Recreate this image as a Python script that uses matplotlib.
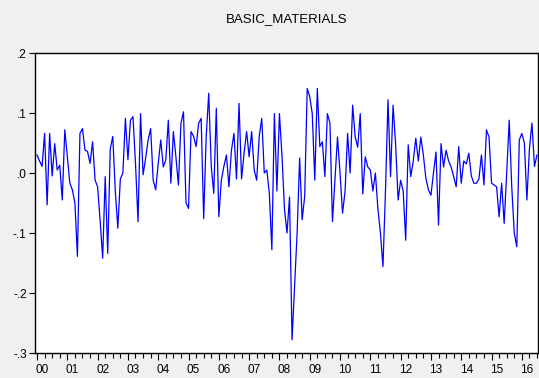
import matplotlib
matplotlib.use("Agg")
import matplotlib.pyplot as plt
import numpy as np

plt.rcParams['font.family'] = ['Liberation Sans', 'DejaVu Sans']

# Monthly values, one list per year
r2000 = [0.030, 0.020, 0.011, 0.066, -0.053, 0.066, -0.005, 0.049, 0.005, 0.013, -0.045, 0.072]
r2001 = [0.027, -0.017, -0.028, -0.050, -0.139, 0.066, 0.074, 0.038, 0.036, 0.016, 0.052, -0.012]
r2002 = [-0.023, -0.080, -0.142, -0.006, -0.134, 0.040, 0.061, -0.030, -0.092, -0.010, 0.000, 0.091]
r2003 = [0.022, 0.088, 0.094, 0.016, -0.081, 0.099, -0.003, 0.024, 0.055, 0.074, -0.012, -0.028]
r2004 = [0.016, 0.055, 0.010, 0.022, 0.088, -0.017, 0.069, 0.027, -0.020, 0.083, 0.102, -0.050]
r2005 = [-0.059, 0.069, 0.061, 0.044, 0.083, 0.091, -0.076, 0.061, 0.133, 0.011, -0.034, 0.108]
r2006 = [-0.073, -0.012, 0.011, 0.030, -0.023, 0.038, 0.066, -0.010, 0.116, -0.010, 0.033, 0.069]
r2007 = [0.027, 0.069, 0.005, -0.012, 0.061, 0.091, 0.000, 0.005, -0.034, -0.128, 0.099, -0.030]
r2008 = [0.099, 0.030, -0.060, -0.100, -0.040, -0.278, -0.190, -0.100, 0.025, -0.078, -0.039, 0.141]
r2009 = [0.127, 0.099, -0.012, 0.141, 0.044, 0.052, -0.006, 0.099, 0.083, -0.081, -0.010, 0.060]
r2010 = [0.000, -0.067, -0.030, 0.066, 0.000, 0.113, 0.060, 0.043, 0.099, -0.035, 0.027, 0.010]
r2011 = [0.005, -0.030, 0.000, -0.060, -0.100, -0.156, -0.030, 0.122, -0.006, 0.113, 0.049, -0.045]
r2012 = [-0.012, -0.030, -0.112, 0.047, -0.006, 0.020, 0.058, 0.020, 0.060, 0.030, -0.009, -0.028]
r2013 = [-0.037, 0.000, 0.035, -0.087, 0.049, 0.010, 0.038, 0.020, 0.010, -0.006, -0.023, 0.044]
r2014 = [-0.017, 0.020, 0.015, 0.033, -0.005, -0.017, -0.017, -0.010, 0.030, -0.020, 0.072, 0.060]
r2015 = [-0.017, -0.020, -0.023, -0.073, -0.017, -0.084, 0.000, 0.088, -0.023, -0.100, -0.123, 0.055]
r2016 = [0.066, 0.050, -0.045, 0.040, 0.083, 0.011, 0.030]

years = ["00", "01", "02", "03", "04", "05", "06", "07", "08",
         "09", "10", "11", "12", "13", "14", "15", "16"]
y_ticks = [0.2, 0.1, 0.0, -0.1, -0.2, -0.3]
y_labels = [".2", ".1", ".0", "-.1", "-.2", "-.3"]

values = np.array(r2000 + r2001 + r2002 + r2003 + r2004 + r2005 + r2006 + r2007 +
                  r2008 + r2009 + r2010 + r2011 + r2012 + r2013 + r2014 + r2015 + r2016)
t = np.arange(len(values))

W, H = 539, 378
fig = plt.figure(figsize=(W / 100, H / 100), dpi=100)
fig.patch.set_facecolor('#f0f0f0')
ax = fig.add_axes([35 / W, 1 - 353 / H, (538 - 35) / W, (353 - 53) / H])
ax.set_facecolor('white')

ax.plot(t, values, color='#0000ff', lw=0.9)

ax.set_xlim(-0.8, 198.4)
ax.set_ylim(-0.3, 0.2)

ax.set_yticks(y_ticks)
ax.set_yticklabels(y_labels)
ax.tick_params(axis='y', direction='out', length=4, width=0.8, pad=2, labelsize=8.5)

# quarterly minor ticks, year ticks slightly longer, labels offset inside year
ax.set_xticks(np.arange(0, 199, 12), minor=False)
ax.set_xticklabels([])
ax.set_xticks(np.arange(0, 199, 3), minor=True)
ax.tick_params(axis='x', which='major', direction='out', length=5, width=0.8)
ax.tick_params(axis='x', which='minor', direction='out', length=3.5, width=0.8)
for k, lab in enumerate(years):
    ax.text(12 * k + 2, -0.3, lab, transform=ax.transData, ha='center', va='top',
            fontsize=8.5, clip_on=False).set_y(-0.3)
    ax.texts[-1].set_position((12 * k + 2, -0.3))
for txt in ax.texts:
    txt.set_transform(matplotlib.transforms.offset_copy(ax.transData, fig=fig, y=-8, units='points'))

for s in ax.spines.values():
    s.set_linewidth(1.0)
    s.set_color('black')

fig.text((35 + 538) / 2 / W, 1 - 19 / H, "BASIC_MATERIALS", ha='center', va='center', fontsize=9.5)

fig.savefig("out.png", dpi=100, facecolor=fig.get_facecolor())
